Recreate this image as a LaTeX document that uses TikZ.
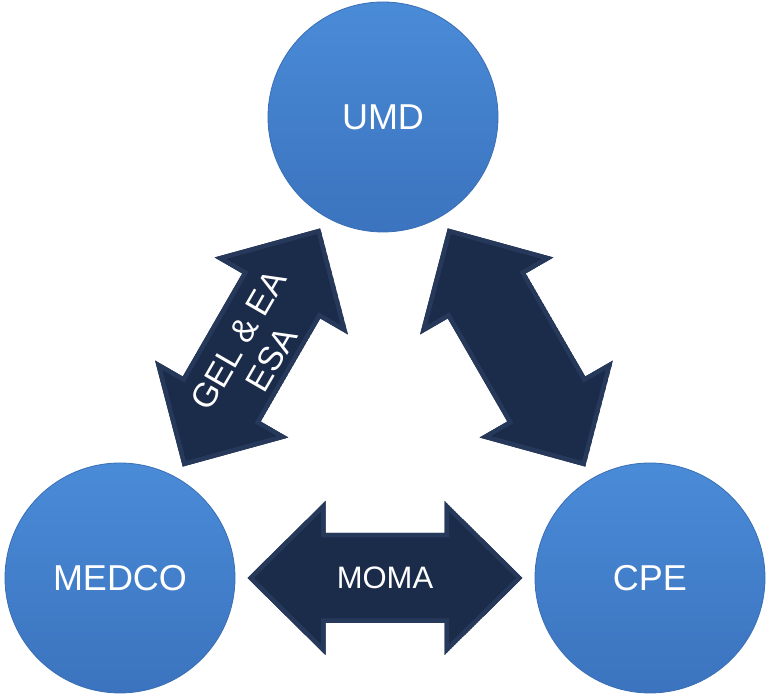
\documentclass[tikz,border=0pt]{standalone}
\usepackage{fontspec}
\setmainfont{Liberation Sans}
\usetikzlibrary{calc}
\definecolor{navy}{HTML}{1B2C4A}
\definecolor{navyedge}{HTML}{26395B}
\definecolor{balltop}{HTML}{4A8BD8}
\definecolor{ballbot}{HTML}{3B73BE}
\definecolor{ballrim}{HTML}{3A6FB5}
\newcommand{\dblarrowpath}{(-137.5,0) -- (-59.5,77) -- (-59.5,45) -- (59.5,45) -- (59.5,77) -- (137.5,0) -- (59.5,-77) -- (59.5,-45) -- (-59.5,-45) -- (-59.5,-77) -- cycle}
\tikzset{
  ball/.style={circle, minimum size=230pt, inner sep=0pt, top color=balltop, bottom color=ballbot, draw=ballrim, line width=0.8pt, text=white, font=\fontsize{36}{40}\selectfont},
  arrowtext/.style={text=white, font=\fontsize{31}{38}\selectfont, align=center},
}
\begin{document}
\begin{tikzpicture}[x=1pt,y=1pt]
\useasboundingbox (0,0) rectangle (769,695);
\node[ball] (umd) at (383,578) {UMD};
\node[ball] (medco) at (120,117) {MEDCO};
\node[ball] (cpe) at (650,117) {CPE};
% left arrow
\coordinate (lm) at ($(medco)!0.5!(umd)$);
\begin{scope}[shift={(lm)}, rotate=60]
  \begin{scope}
    \clip \dblarrowpath;
    \fill[navy] \dblarrowpath;
    \draw[navyedge, line width=9pt] \dblarrowpath;
  \end{scope}
  \node[arrowtext, rotate=60, font=\fontsize{34}{38}\selectfont, inner sep=0pt] (gel) at (0,-4) {GEL \& EA\\ESA};
\end{scope}
% right arrow
\coordinate (rm) at ($(cpe)!0.5!(umd)$);
\begin{scope}[shift={(rm)}, rotate=-60]
  \begin{scope}
    \clip \dblarrowpath;
    \fill[navy] \dblarrowpath;
    \draw[navyedge, line width=9pt] \dblarrowpath;
  \end{scope}
\end{scope}
% bottom arrow
\coordinate (bm) at ($(medco)!0.5!(cpe)$);
\begin{scope}[shift={(bm)}]
  \begin{scope}
    \clip \dblarrowpath;
    \fill[navy] \dblarrowpath;
    \draw[navyedge, line width=9pt] \dblarrowpath;
  \end{scope}
  \node[arrowtext] (moma) at (0,0) {MOMA};
\end{scope}
\end{tikzpicture}
\end{document}
